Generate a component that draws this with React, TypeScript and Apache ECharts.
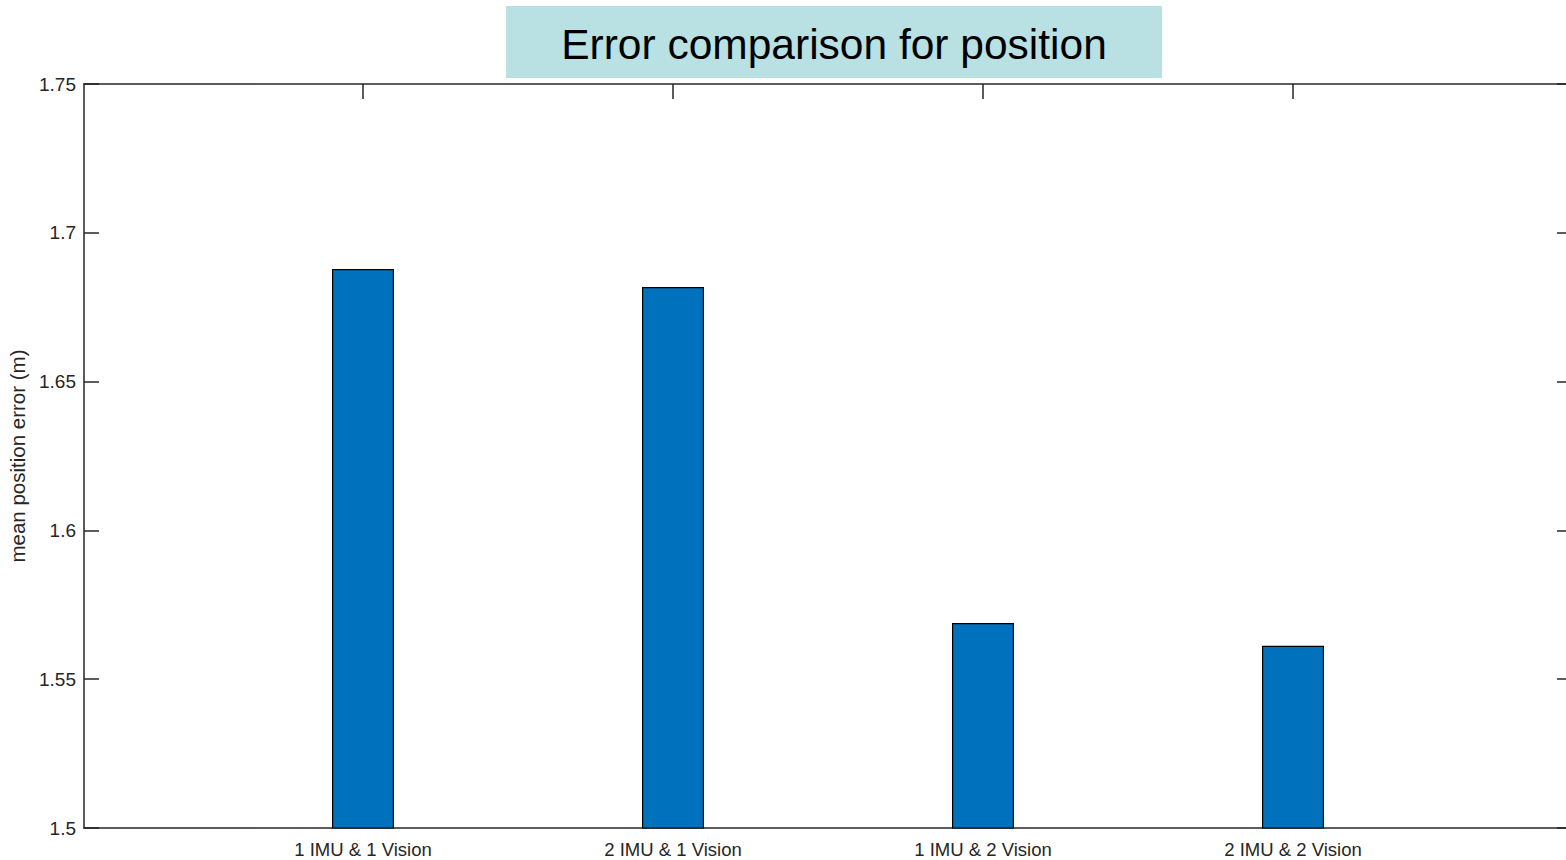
import React, { useEffect, useRef } from "react";
import * as echarts from "echarts";

const categories = ["1 IMU & 1 Vision", "2 IMU & 1 Vision", "1 IMU & 2 Vision", "2 IMU & 2 Vision"];
const positions = [1, 2, 3, 4];
const meanErrors = [1.6878, 1.6818, 1.5689, 1.5612];
const yTicks = [1.5, 1.55, 1.6, 1.65, 1.7, 1.75];
const titleText = "Error comparison for position";
const yName = "mean position error (m)";

const AXIS = "#262626";
const FONT = "Liberation Sans, Arial, Helvetica, sans-serif";

export default function App() {
  const ref = useRef<HTMLDivElement>(null);
  useEffect(() => {
    if (!ref.current) return;
    const chart = echarts.init(ref.current, undefined, { renderer: "svg" });
    const fmtX = (v: number) => {
      const i = positions.indexOf(Math.round(v));
      return i >= 0 ? categories[i] : "";
    };
    const fmtY = (v: number) => String(+Number(v).toFixed(2));
    const xBase = {
      type: "value",
      min: 0.1,
      max: 4.9,
      splitLine: { show: false },
      axisLine: { show: true, onZero: false, lineStyle: { color: AXIS, width: 1.5 } },
    };
    const yBase = {
      type: "value",
      min: yTicks[0],
      max: yTicks[yTicks.length - 1],
      interval: 0.05,
      splitLine: { show: false },
      axisLine: { show: true, onZero: false, lineStyle: { color: AXIS, width: 1.5 } },
      axisTick: { show: true, inside: true, length: 15, lineStyle: { color: AXIS, width: 1.5 } },
    };
    chart.setOption({
      animation: false,
      backgroundColor: "#ffffff",
      grid: { left: 84, width: 1488, top: 84, height: 744, containLabel: false, outerBoundsMode: "none" },
      xAxis: [
        {
          ...xBase,
          position: "bottom",
          axisTick: { show: true, inside: true, length: 15, customValues: positions, lineStyle: { color: AXIS, width: 1.5 } },
          axisLabel: {
            show: true,
            customValues: positions,
            formatter: fmtX,
            color: AXIS,
            fontSize: 18.5,
            fontFamily: FONT,
            margin: 12,
          },
        },
        {
          ...xBase,
          position: "top",
          axisTick: { show: true, inside: true, length: 15, customValues: positions, lineStyle: { color: AXIS, width: 1.5 } },
          axisLabel: { show: false },
        },
      ],
      yAxis: [
        {
          ...yBase,
          position: "left",
          name: yName,
          nameLocation: "middle",
          nameGap: 52,
          nameTextStyle: { color: AXIS, fontSize: 20.5, fontFamily: FONT },
          axisLabel: { show: true, formatter: fmtY, color: AXIS, fontSize: 19, fontFamily: FONT, margin: 8 },
        },
        {
          ...yBase,
          position: "right",
          axisLabel: { show: false },
        },
      ],
      series: [
        {
          type: "bar",
          xAxisIndex: 0,
          yAxisIndex: 0,
          barWidth: 62,
          data: positions.map((p, i) => [p, meanErrors[i]]),
          itemStyle: { color: "#0072BD", borderColor: "#000000", borderWidth: 1.2 },
          z: 1,
        },
      ],
      graphic: [
        {
          type: "rect",
          left: 506,
          top: 6,
          shape: { width: 656, height: 72 },
          style: { fill: "#B9E0E3" },
          z: 10,
        },
        {
          type: "text",
          x: 834,
          y: 44,
          style: {
            text: titleText,
            fill: "#000000",
            fontSize: 42.5,
            fontFamily: FONT,
            align: "center",
            verticalAlign: "middle",
          },
          z: 11,
        },
      ],
    });
    return () => chart.dispose();
  }, []);
  return (
    <div
      ref={ref}
      style={{ position: "fixed", left: 0, top: 0, width: 1584, height: 860, background: "#fff" }}
    />
  );
}
